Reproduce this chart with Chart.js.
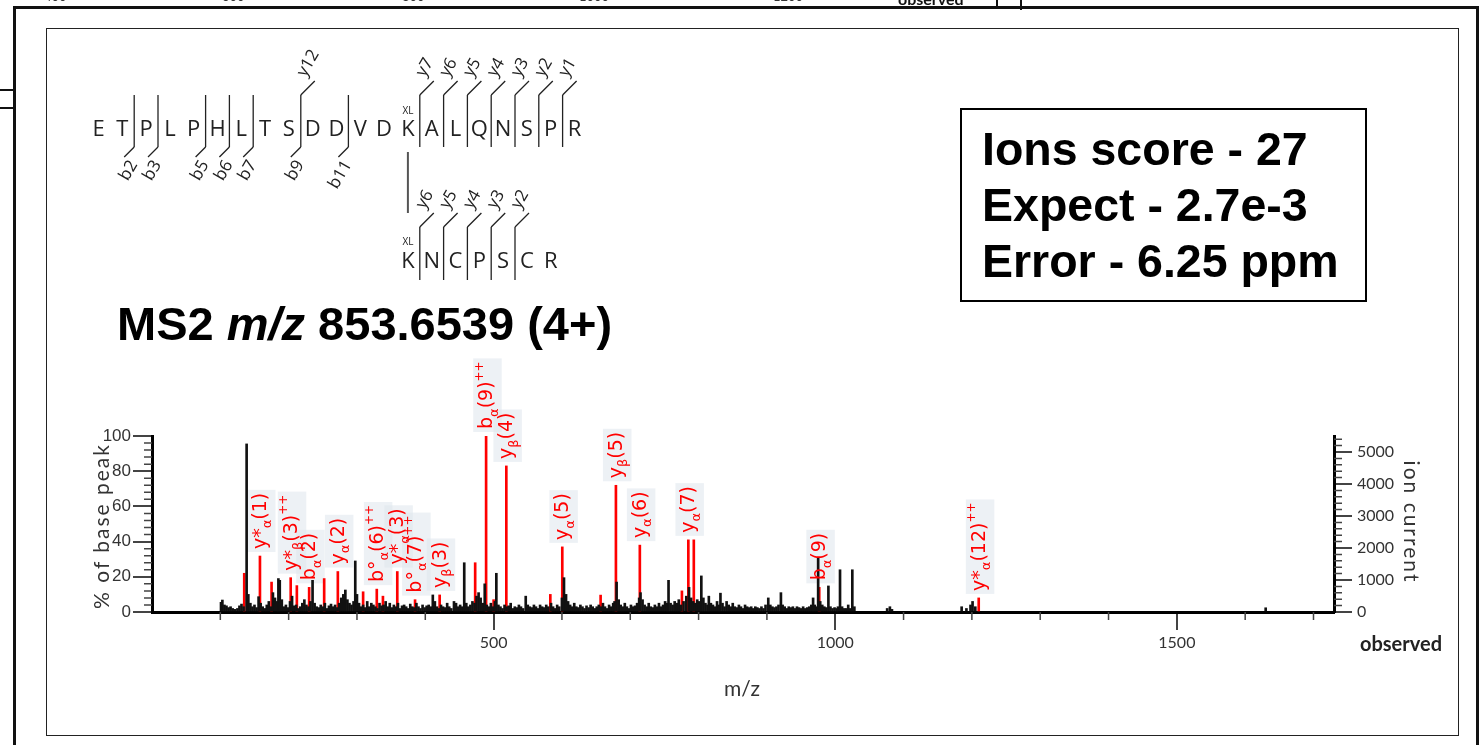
<!DOCTYPE html>
<html><head><meta charset="utf-8">
<script src="https://cdn.jsdelivr.net/npm/chart.js@4.4.1/dist/chart.umd.min.js"></script>
<style>
html,body{margin:0;padding:0;background:#fff;}
#wrap{position:relative;width:1481px;height:745px;overflow:hidden;background:#fff;}
#c{position:absolute;left:0;top:0;}
.abs{position:absolute;white-space:nowrap;}
.ln{position:absolute;background:#111;}
.big{font-family:'Liberation Sans',Arial,sans-serif;font-weight:bold;font-size:46.5px;line-height:46.5px;color:#000;}
.ax{font-family:Lato,'Open Sans',sans-serif;color:#333;line-height:1;}
</style></head><body>
<div id="wrap">
  <canvas id="c" width="1481" height="745"></canvas>
  <svg id="pep" class="abs" width="1481" height="745" style="left:0;top:0"></svg>

  <!-- frames -->
  <div class="ln" style="left:13px;top:6px;width:1466px;height:2.5px"></div>
  <div class="ln" style="left:13px;top:6px;width:2.5px;height:739px"></div>
  <div class="ln" style="left:1476px;top:6px;width:2.5px;height:739px"></div>
  <div class="abs" style="left:46px;top:28px;width:1413px;height:708px;border:1.5px solid #222;box-sizing:border-box"></div>
  <div class="ln" style="left:0;top:89px;width:14px;height:1.5px"></div>
  <div class="ln" style="left:0;top:107px;width:14px;height:1.5px"></div>
  <div class="ln" style="left:996px;top:0;width:1.5px;height:7px"></div>
  <div class="ln" style="left:1020px;top:0;width:1.5px;height:10px"></div>

  <!-- remnants of the figure above -->
  <div class="abs ax" style="left:44px;top:-10px;font-size:13px">400</div>
  <div class="abs ax" style="left:222px;top:-10px;font-size:13px">600</div>
  <div class="abs ax" style="left:402px;top:-10px;font-size:13px">800</div>
  <div class="abs ax" style="left:579px;top:-10px;font-size:13px">1000</div>
  <div class="abs ax" style="left:773px;top:-10px;font-size:13px">1200</div>
  <div class="abs ax" style="left:898px;top:-9px;font-size:16px;font-weight:bold;color:#111">observed</div>

  <!-- title and score box -->
  <div class="abs big" style="left:117px;top:300px;font-size:47px;line-height:47px">MS2 <i>m/z</i> 853.6539 (4+)</div>
  <div class="abs" style="left:960px;top:108px;width:407px;height:194px;border:2px solid #000;box-sizing:border-box"></div>
  <div class="abs big" style="left:982px;top:126px">Ions score - 27</div>
  <div class="abs big" style="left:982px;top:182px">Expect - 2.7e-3</div>
  <div class="abs big" style="left:982px;top:238px">Error - 6.25 ppm</div>

  <!-- axis titles -->
  <div class="abs ax" style="left:100px;top:526px;font-size:21px;letter-spacing:2px;transform:translate(-50%,-50%) rotate(-90deg)">% of base peak</div>
  <div class="abs ax" style="left:1412px;top:522px;font-size:21px;letter-spacing:2px;transform:translate(-50%,-50%) rotate(90deg)">ion current</div>
  <div class="abs ax" style="left:742px;top:687px;font-size:21px;transform:translate(-50%,-50%)">m/z</div>
  <div class="abs ax" style="left:1401px;top:643px;font-size:20px;font-weight:bold;color:#222;transform:translate(-50%,-50%)">observed</div>
</div>
<script>
// ---------------- data ----------------
const peptideAlpha = 'ETPLPHLTSDDVDKALQNSPR';
const peptideBeta = 'KNCPSCR';
const alphaBIons = [2, 3, 5, 6, 7, 9, 11];
const alphaYIons = [12, 7, 6, 5, 4, 3, 2, 1];
const betaYIons = [6, 5, 4, 3, 2];

const xTickValues = [500, 1000, 1500];
const yTickValues = [0, 20, 40, 60, 80, 100];
const y2TickValues = [0, 1000, 2000, 3000, 4000, 5000];

// matched (red) peaks
const matchedMz  = [135, 158, 175, 203, 212, 230, 252, 272, 309, 329, 338, 359, 385, 421, 473, 489, 500, 518.6, 583, 600.5, 656.6, 679, 714, 775.6, 785, 793, 976.6, 1210];
const matchedPct = [22, 31.8, 17, 19.5, 15, 14, 19, 23, 11.5, 13, 9, 23, 7, 9.7, 28, 100, 7, 83, 10, 37, 9.6, 72, 38, 12, 41, 41, 14, 8];
const matchedLabels = ['', 'y*_α(1)', '', 'y*_β(3)^++', '', 'b_α(2)', '', 'y_α(2)', '', 'b°_α(6)^++', '', 'y*_α(3)', 'b°_α(7)^++', 'y_β(3)', '', 'b_α(9)^++', '', 'y_β(4)', '', 'y_α(5)', '', 'y_β(5)', 'y_α(6)', '', 'y_α(7)', '', 'b_α(9)', 'y*_α(12)^++'];

// unmatched (black) peaks [m/z, % of base peak]
const unmatchedPeaks = [
[101,5.5],[103,6.8],[106,4],[109,3.5],[112,2.5],[115,3],[118,2],[121,1.5],[125,2],[128,3.5],[131,4.5],[134,3],[138.5,95.5],[141,10],[144,5],[147,3],[150,4],[153,2.5],[156,8.7],[159,5],[162,3],[165,2],[168,4],[171,6],[174,3],[177,11],[180,8],[183,6],[185,19],[187,18],[190,7],[193,3],[196,4],[199,2.5],[202,6],[205,9],[208,3.5],[211,4],[214,2],[217,3],[220,5],[223,7],[226,4],[229,3],[232,6],[235,18],[238,5],[241,3],[244,2.5],[247,4],[250,3],[253,5],[256,2],[259,3.5],[262,4.5],[265,3],[268,4],[271,2.5],[274,5],[277,8],[280,10],[283,12.5],[286,7],[289,5],[292,4],[295,6],[297.5,29],[300,10],[303,5],[306,3],[309,4],[312,2.5],[315,6],[318,3],[321,5],[324,4],[327,3],[330,2],[333,5],[336,3.5],[339,4],[342,6],[345,3],[348,5],[351,2.5],[354,4],[357,3],[360,5],[363,2],[366,3.5],[369,4],[372,3],[375,2],[378,4.5],[381,3],[384,2.5],[387,5],[390,3],[393,2],[396,4],[399,2.5],[402,3.5],[405,4],[408,3],[411,9.7],[414,6],[417,3],[420,2],[423,4],[426,3],[429,2.5],[432,5],[435,3],[438,2],[442,6],[445,5],[448,3],[451,4],[454,3],[457,28],[460,5],[463,3],[466,4],[469,6],[472,5],[475,9],[478,11],[481,8],[484,5],[487,16],[490,4],[493,3],[496,5],[499,3],[502,6],[504,22],[507,4],[510,3],[513,2],[516,4],[519,3],[522,3.5],[525,5],[528,2],[531,3],[534,2.5],[537,4],[540,3],[543,2],[547,9],[550,4],[553,3],[556,2.5],[559,4],[562,3],[565,2],[568,4],[571,3],[574,2.5],[577,4],[580,3],[584,5],[587,3],[590,2],[593,4],[596,3],[600,8],[603,19.5],[606,10],[609,6],[612,4],[615,3],[618,5],[621,3],[624,2.5],[627,4],[630,3],[633,2],[636,3.5],[639,2.5],[642,4],[645,3],[648,2],[651,3],[654,4],[657,3],[660,5],[663,3],[666,2],[669,4],[672,3],[675,5],[677,6],[680,17],[683,7],[686,4],[689,3],[692,5],[695,3],[698,2],[701,4],[704,3],[707,3.5],[710,5],[713,8],[715,11],[718,7],[721,4],[724,3],[727,5],[730,3],[733,2.5],[736,4],[739,3],[742,5],[745,3],[748,4],[751,6],[754,5],[756,18],[759,5],[762,4],[765,6],[768,5],[771,7],[774,4],[778,6],[782,9],[786,14],[789,8],[792,6],[795,5],[798,7],[801,6],[804,20.5],[807,8],[810,5],[813,4],[815,9],[818,5],[821,4],[824,3],[827,6],[830,4],[832,10.7],[835,5],[838,3],[841,6],[844,4],[847,3],[850,5],[853,3],[856,2.5],[859,4],[862,3],[865,2],[868,4],[871,3],[874,2.5],[877,3],[880,2],[883,3],[886,2.5],[889,2],[892,3],[895,2],[898,4],[902,8],[905,4],[908,3],[911,2.5],[914,3],[917,4],[920.5,11],[923,4],[926,3],[929,2],[932,3],[935,2.5],[938,3],[941,2],[944,3],[947,2.5],[950,2],[953,3],[956,2],[959,2.5],[962,3],[965,4],[967.6,8],[970,4],[973,3],[975,30.5],[978,6],[981,4],[984,3],[987,2.5],[990,14.8],[993,3],[996,2],[999,2.5],[1002,2],[1004,3],[1007,24],[1010,3],[1013,2],[1016,2],[1019,4],[1022,2],[1025,24],[1028,3],[1076,2],[1080,3],[1083,1.5],[1185,3],[1192,2],[1198,4],[1201,6],[1205,3],[1630,2.4]
];

// ---------------- peptide diagram (SVG) ----------------
(function(){
  const svg = document.getElementById('pep');
  const NS = 'http://www.w3.org/2000/svg';
  const add = (tag, attrs, text) => { const e = document.createElementNS(NS, tag); for (const k in attrs) e.setAttribute(k, attrs[k]); if (text !== undefined) e.textContent = text; svg.appendChild(e); return e; };
  const step = 23.8, x0 = 98.5;
  const letterFont = {'font-family':"'Open Sans',Lato,sans-serif", 'font-size':'22', fill:'#222', 'text-anchor':'middle'};
  const ionFont = {'font-family':"'Open Sans',Lato,sans-serif", 'font-size':'17', fill:'#222', 'dominant-baseline':'central'};
  const line = (x1,y1,x2,y2,w,c) => add('line',{x1,y1,x2,y2,stroke:c||'#222','stroke-width':w||1.3});
  // alpha peptide
  const baseA = 136, topA = 95, botA = 147;
  [...peptideAlpha].forEach((ch,i) => add('text', Object.assign({x:x0+step*i, y:baseA}, letterFont), ch));
  const n = peptideAlpha.length;
  const sepSet = new Set([...alphaBIons, ...alphaYIons.map(y => n - y)]);
  sepSet.forEach(k => {
    const x = x0 + step*(k-0.5);
    line(x, topA, x, botA);
    if (alphaBIons.includes(k)) {
      line(x, botA, x-10, botA+10);
      add('text', Object.assign({x:x-2, y:botA+14, 'text-anchor':'end', transform:`rotate(-60 ${x-2} ${botA+14})`}, ionFont), 'b'+k);
    }
    if (alphaYIons.includes(n-k)) {
      line(x, topA, x+14, topA-14);
      add('text', Object.assign({x:x-1, y:topA-20.5, 'text-anchor':'start', transform:`rotate(-60 ${x-1} ${topA-20.5})`}, ionFont), 'y'+(n-k));
    }
  });
  // beta peptide
  const kIdx = peptideAlpha.indexOf('K');
  const xb0 = x0 + step*kIdx, baseB = 268, topB = 227, botB = 280;
  [...peptideBeta].forEach((ch,j) => add('text', Object.assign({x:xb0+step*j, y:baseB}, letterFont), ch));
  const m = peptideBeta.length;
  betaYIons.forEach(y => {
    const k = m - y, x = xb0 + step*(k-0.5);
    line(x, topB, x, botB);
    line(x, topB, x+14, topB-14);
    add('text', Object.assign({x:x-1, y:topB-20.5, 'text-anchor':'start', transform:`rotate(-60 ${x-1} ${topB-20.5})`}, ionFont), 'y'+y);
  });
  // cross-link
  line(xb0, 152, xb0, 213, 2, '#555');
  const xlFont = {'font-family':"'Open Sans',sans-serif", 'font-size':'10', fill:'#222', 'text-anchor':'middle'};
  add('text', Object.assign({x:xb0, y:114}, xlFont), 'XL');
  add('text', Object.assign({x:xb0, y:245}, xlFont), 'XL');
})();

// ---------------- chart ----------------
function parseLabel(s){
  const out = []; const re = /_(.)|\^(\+\+)|([^_^]+)/g; let mt;
  while ((mt = re.exec(s))) {
    if (mt[1]) out.push({t:mt[1], k:'sub'});
    else if (mt[2]) out.push({t:mt[2], k:'sup'});
    else out.push({t:mt[3], k:'n'});
  }
  return out;
}
const LF = 19, LFAM = "'DejaVu Sans', sans-serif", GAP = 7;
const lfonts = {n:`${LF}px ${LFAM}`, sub:`${Math.round(LF*0.68)}px ${LFAM}`, sup:`${Math.round(LF*0.62)}px ${LFAM}`};
const loff = {n:0, sub:LF*0.28, sup:-LF*0.5};
function labelGeom(chart, i, ctx){
  const parts = parseLabel(matchedLabels[i]);
  let w = 0;
  parts.forEach(p => { ctx.font = lfonts[p.k]; p.w = ctx.measureText(p.t).width; w += p.w; });
  const px = chart.scales.x.getPixelForValue(matchedMz[i]);
  const py = chart.scales.y.getPixelForValue(matchedPct[i]);
  return {parts, w, px, py};
}
const peakLabelPlugin = {
  id: 'peakLabels',
  beforeDatasetsDraw(chart){
    const ctx = chart.ctx;
    matchedLabels.forEach((lab,i) => {
      if (!lab) return;
      const g = labelGeom(chart, i, ctx);
      ctx.save(); ctx.translate(g.px, g.py - GAP); ctx.rotate(-Math.PI/2);
      ctx.fillStyle = 'rgba(222,230,237,0.55)';
      ctx.fillRect(-3, LF*0.32 - LF*1.0, g.w + 6, LF*1.5);
      ctx.restore();
    });
  },
  afterDatasetsDraw(chart){
    const ctx = chart.ctx;
    matchedLabels.forEach((lab,i) => {
      if (!lab) return;
      const g = labelGeom(chart, i, ctx);
      ctx.save(); ctx.translate(g.px, g.py - GAP); ctx.rotate(-Math.PI/2);
      ctx.fillStyle = '#ff0000'; ctx.textBaseline = 'alphabetic';
      let x = 0;
      g.parts.forEach(p => { ctx.font = lfonts[p.k]; ctx.fillText(p.t, x, LF*0.32 + loff[p.k]); x += p.w; });
      ctx.restore();
    });
  }
};
const minorTickPlugin = {
  id: 'minorTicks',
  afterDraw(chart){
    const ctx = chart.ctx, a = chart.chartArea, sx = chart.scales.x, sy = chart.scales.y, s2 = chart.scales.y2;
    ctx.save(); ctx.strokeStyle = '#444'; ctx.lineWidth = 1.5; ctx.beginPath();
    for (let v = 100; v <= 1700; v += 100) { if (v % 500 === 0) continue; const p = sx.getPixelForValue(v); ctx.moveTo(p, a.bottom); ctx.lineTo(p, a.bottom + 8); }
    for (let v = 4; v < 100; v += 4) { if (v % 20 === 0) continue; const p = sy.getPixelForValue(v); ctx.moveTo(a.left, p); ctx.lineTo(a.left - 8, p); }
    for (let v = 200; v <= 5400; v += 200) { if (v % 1000 === 0) continue; const p = s2.getPixelForValue(v); ctx.moveTo(a.right, p); ctx.lineTo(a.right + 8, p); }
    ctx.stroke(); ctx.restore();
  }
};
const plainNumber = v => String(v);

new Chart(document.getElementById('c'), {
  type: 'bar',
  data: {
    datasets: [
      { label: 'unmatched', data: unmatchedPeaks.map(p => ({x:p[0], y:p[1]})), backgroundColor: '#111', barThickness: 2, grouped: false, order: 0 },
      { label: 'matched', data: matchedMz.map((v,i) => ({x:v, y:matchedPct[i]})), backgroundColor: '#ff0000', barThickness: 2, grouped: false, order: 1 }
    ]
  },
  options: {
    responsive: false, animation: false, devicePixelRatio: 1,
    layout: { padding: { left: 60, right: 67, top: 436, bottom: 93 } },
    plugins: { legend: { display: false }, tooltip: { enabled: false } },
    scales: {
      x: {
        type: 'linear', min: 0, max: 1730, offset: false,
        grid: { display: true, drawOnChartArea: false, drawTicks: true, tickLength: 18, color: '#444', lineWidth: 2, offset: false },
        border: { display: true, color: '#000', width: 3 },
        ticks: { font: { family: "Lato, 'Open Sans', sans-serif", size: 16 }, color: '#333', padding: 3, maxRotation: 0, callback: plainNumber },
        afterBuildTicks: s => { s.ticks = xTickValues.map(v => ({value: v})); },
        afterFit: s => { s.height = 40; }
      },
      y: {
        position: 'left', min: 0, max: 100,
        grid: { display: true, drawOnChartArea: false, drawTicks: true, tickLength: 19, color: '#444', lineWidth: 2 },
        border: { display: true, color: '#000', width: 3 },
        ticks: { font: { family: "'Liberation Sans', Arial, sans-serif", size: 17 }, color: '#333', padding: 2, callback: plainNumber },
        afterBuildTicks: s => { s.ticks = yTickValues.map(v => ({value: v})); },
        afterFit: s => { s.width = 92; }
      },
      y2: {
        position: 'right', min: 0, max: 5500,
        grid: { display: true, drawOnChartArea: false, drawTicks: true, tickLength: 18, color: '#444', lineWidth: 2 },
        border: { display: true, color: '#000', width: 3 },
        ticks: { font: { family: "Lato, 'Open Sans', sans-serif", size: 16 }, color: '#333', padding: 5, callback: plainNumber },
        afterBuildTicks: s => { s.ticks = y2TickValues.map(v => ({value: v})); },
        afterFit: s => { s.width = 80; }
      }
    }
  },
  plugins: [peakLabelPlugin, minorTickPlugin]
});
</script>
</body></html>
